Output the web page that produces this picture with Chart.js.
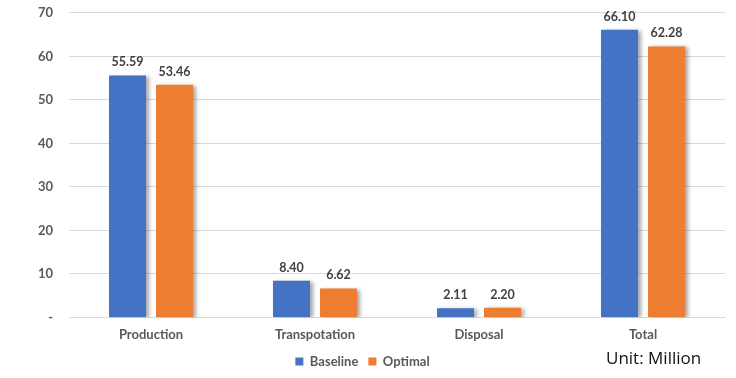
<!DOCTYPE html>
<html>
<head>
<meta charset="utf-8">
<script src="https://cdn.jsdelivr.net/npm/chart.js@4/dist/chart.umd.min.js"></script>
<style>
  html, body { margin: 0; padding: 0; background: #fff; }
  #wrap { position: relative; width: 736px; height: 378px; }
  #unit { position: absolute; left: 606px; top: 346px; font-family: "Open Sans", "Noto Sans", sans-serif; font-size: 17px; color: #111; white-space: nowrap; }
</style>
</head>
<body>
<div id="wrap">
  <canvas id="c" width="736" height="378"></canvas>
  <div id="unit">Unit: Million</div>
</div>
<script>
const categories = ["Production", "Transpotation", "Disposal", "Total"];
const baseline = [55.59, 8.40, 2.11, 66.10];
const optimal = [53.46, 6.62, 2.20, 62.28];
const yTicks = [0, 10, 20, 30, 40, 50, 60, 70];

const labelFont = { family: "Lato, 'Open Sans', sans-serif", size: 13, weight: "bold" };

const shadowPlugin = {
  id: "shadow",
  beforeDatasetsDraw(chart) {
    const ctx = chart.ctx;
    ctx.save();
    ctx.shadowColor = "rgba(0,0,0,0.35)";
    ctx.shadowBlur = 4;
    ctx.shadowOffsetX = 3;
    ctx.shadowOffsetY = 1;
  },
  afterDatasetsDraw(chart) {
    chart.ctx.restore();
  }
};

const valueLabels = {
  id: "valueLabels",
  afterDatasetsDraw(chart) {
    const ctx = chart.ctx;
    ctx.save();
    ctx.font = "bold 12.5px Lato, 'Open Sans', sans-serif";
    ctx.fillStyle = "#404040";
    ctx.textAlign = "center";
    ctx.textBaseline = "bottom";
    chart.data.datasets.forEach((ds, i) => {
      const meta = chart.getDatasetMeta(i);
      meta.data.forEach((bar, j) => {
        ctx.fillText(ds.data[j].toFixed(2), bar.x, bar.y - 7);
      });
    });
    ctx.restore();
  }
};

new Chart(document.getElementById("c"), {
  type: "bar",
  data: {
    labels: categories,
    datasets: [
      { label: "Baseline", data: baseline, backgroundColor: "#4472C4" },
      { label: "Optimal", data: optimal, backgroundColor: "#ED7D31" }
    ]
  },
  options: {
    responsive: false,
    animation: false,
    devicePixelRatio: 1,
    layout: { padding: { top: 0, right: 11, left: 0, bottom: 0 } },
    datasets: { bar: { categoryPercentage: 0.573, barPercentage: 0.787 } },
    plugins: {
      legend: {
        position: "bottom",
        labels: {
          boxWidth: 8, boxHeight: 8, padding: 10,
          color: "#595959",
          font: labelFont
        }
      },
      tooltip: { enabled: false }
    },
    scales: {
      x: {
        grid: { display: false },
        border: { display: true, color: "#d9d9d9" },
        ticks: { color: "#595959", font: labelFont, padding: 2 }
      },
      y: {
        min: 0, max: 70,
        afterBuildTicks(scale) { scale.ticks = yTicks.map(v => ({ value: v })); },
        afterFit(scale) { scale.width = 69; },
        grid: { color: "#d9d9d9", drawTicks: true, tickLength: 11, tickColor: "rgba(0,0,0,0)" },
        border: { display: false },
        ticks: {
          color: "#595959", font: labelFont, padding: 5,
          callback: v => v === 0 ? "-" : v
        }
      }
    }
  },
  plugins: [shadowPlugin, valueLabels]
});
</script>
</body>
</html>
